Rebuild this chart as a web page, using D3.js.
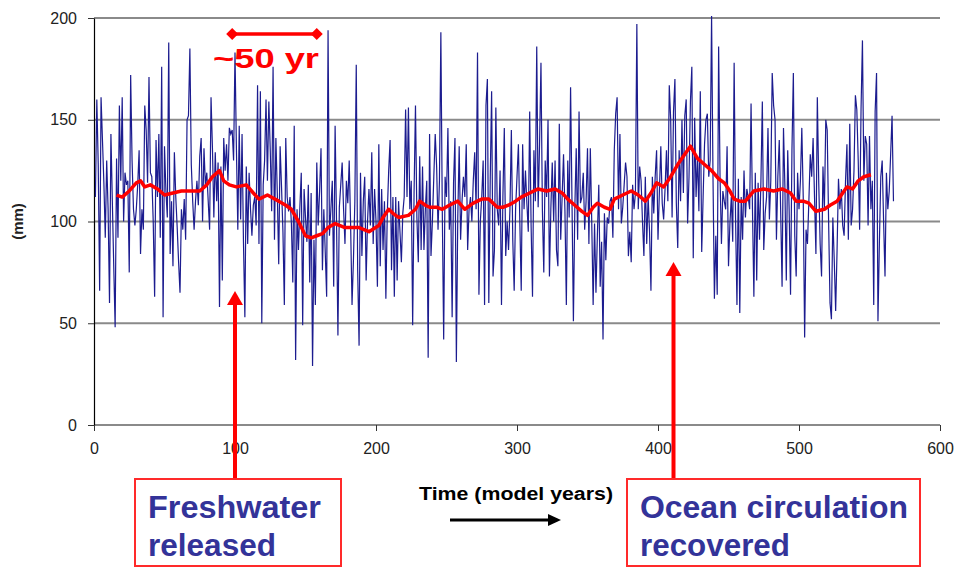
<!DOCTYPE html>
<html>
<head>
<meta charset="utf-8">
<title>Freshwater release</title>
<script src="https://d3js.org/d3.v7.min.js"></script>
<style>
  body { margin: 0; background: #fff; font-family: Arial, "Liberation Sans", sans-serif; }
</style>
</head>
<body>
<svg></svg>
<script>
// annual series, model years 1..567 (mm)
var annual = [
  112,160,128,66,161,140,119,92,130,106,
  60,143,110,78,48,131,92,157,120,161,
  100,124,118,120,75,172,130,106,98,106,
  118,135,84,106,96,157,145,119,171,124,
  122,100,63,140,112,143,92,176,53,137,
  115,102,188,84,110,78,134,112,97,80,
  65,106,96,111,91,150,152,185,128,110,
  96,110,120,108,132,141,100,136,118,124,
  110,96,161,136,102,134,110,129,58,127,
  71,141,125,138,120,146,143,145,130,183,
  136,96,147,101,143,90,53,127,89,124,
  106,93,108,112,98,167,89,164,50,118,
  130,160,120,159,135,105,176,91,141,114,
  79,137,117,95,59,141,112,105,112,99,
  70,147,32,106,86,107,124,49,116,102,
  90,118,70,114,29,91,59,129,98,115,
  136,76,106,85,63,194,93,106,120,68,
  147,100,44,107,118,129,106,89,120,109,
  130,98,59,81,110,177,76,39,124,83,
  110,122,71,100,116,98,134,89,116,100,
  68,138,78,116,86,110,62,104,125,140,
  76,112,63,112,71,110,95,80,104,112,
  155,112,156,106,120,49,114,157,102,80,
  132,86,127,86,106,120,33,143,83,100,
  122,143,127,96,120,193,106,42,122,112,
  146,96,110,53,119,141,31,102,137,91,
  110,122,112,138,86,106,112,100,120,134,
  106,183,64,100,112,130,59,157,170,60,
  120,164,73,86,156,106,98,125,59,112,
  146,83,100,86,106,145,91,66,106,122,
  138,100,66,138,106,125,109,95,154,98,
  63,135,110,186,107,138,178,106,75,130,
  112,150,73,106,129,100,130,86,78,148,
  91,112,133,105,59,130,102,166,110,51,
  106,136,91,154,109,112,124,96,110,136,
  89,136,100,59,99,65,93,118,68,90,
  42,104,81,102,99,110,112,92,135,153,
  161,106,143,99,107,118,129,122,83,95,
  80,118,106,114,197,106,127,120,100,83,
  122,89,112,95,66,122,104,122,135,91,
  115,137,109,101,116,135,110,167,150,102,
  154,170,109,87,135,110,150,114,152,160,
  99,122,159,176,82,151,112,132,105,164,
  85,112,138,150,153,122,130,201,122,62,
  93,64,186,122,89,115,110,106,137,78,
  99,112,90,178,102,59,121,55,112,91,
  125,102,116,112,106,158,106,63,124,71,
  119,91,120,159,86,104,112,146,101,120,
  173,157,150,91,122,140,105,68,146,117,
  71,135,106,64,135,173,93,73,124,106,
  120,146,112,43,96,89,110,133,122,141,
  112,84,161,119,89,73,127,106,150,145,
  100,60,52,102,81,56,86,121,106,116,
  98,93,120,138,91,148,98,106,125,162,
  155,130,96,155,189,120,142,138,98,142,
  106,120,59,154,173,51,89,122,130,100,
  73,124,106,115,133,152,110
];

// running mean
var meanYears = [16,20,25,30,33,36,40,45,50,56,62,68,75,80,84,89,92,96,101,108,
  113,117,123,131,136,140,145,150,154,158,162,166,171,178,183,188,195,202,205,209,
  212,216,223,228,231,235,238,243,247,252,258,263,269,275,280,286,290,294,299,303,
  309,315,321,327,332,336,341,346,350,354,357,362,366,369,375,381,386,391,395,399,
  404,409,414,419,423,428,433,438,443,447,451,454,458,462,468,475,482,488,494,498,
  503,507,512,518,522,527,531,534,538,542,546,551];
var meanValues = [113,112,115,119,120,117,118,116,113,114,115,115,115,118,122,125,120,118,117,118,
  114,111,113,110,108,106,100,93,92,93,94,97,99,97,97,97,95,98,102,106,
  104,102,103,106,110,108,107,107,106,108,110,106,109,111,111,107,107,108,110,112,
  114,116,115,116,114,111,108,105,103,107,109,107,106,111,113,115,113,110,114,119,
  117,122,128,133,137,131,128,125,121,119,115,111,110,110,115,116,115,116,114,110,
  110,109,105,106,108,110,114,117,116,120,122,123];

var yTicks = [0, 50, 100, 150, 200];
var xTicks = [0, 100, 200, 300, 400, 500, 600];

var W = 960, H = 570;
var svg = d3.select("svg").attr("width", W).attr("height", H);

var x = d3.scaleLinear().domain([0, 600]).range([94, 940]);
var y = d3.scaleLinear().domain([0, 200]).range([425, 18]);

// gridlines
svg.append("g").selectAll("line")
  .data(yTicks).enter().append("line")
    .attr("x1", x(0)).attr("x2", x(600))
    .attr("y1", function(d) { return y(d); })
    .attr("y2", function(d) { return y(d); })
    .attr("stroke", "#8a8a8a").attr("stroke-width", 2);

// axes
var yAxis = svg.append("g")
  .attr("transform", "translate(" + x(0) + ",0)")
  .call(d3.axisLeft(y).tickValues(yTicks).tickSize(6).tickSizeOuter(0).tickPadding(11));
var xAxis = svg.append("g")
  .attr("transform", "translate(0," + y(0) + ")")
  .call(d3.axisBottom(x).tickValues(xTicks).tickSize(6).tickSizeOuter(0).tickPadding(12));

yAxis.select(".domain").attr("stroke", "#000").attr("stroke-width", 1.2);
xAxis.select(".domain").remove();
svg.selectAll(".tick line").attr("stroke", "#333");
svg.selectAll(".tick text")
  .attr("font-family", "Arial, 'Liberation Sans', sans-serif")
  .attr("font-size", 16).attr("fill", "#222");

svg.append("text")
  .attr("transform", "translate(23," + y(100) + ") rotate(-90)")
  .attr("text-anchor", "middle")
  .attr("font-size", 15).attr("font-weight", "bold").attr("fill", "#222")
  .text("(mm)");

// annual line
var line = d3.line()
  .x(function(d, i) { return x(i + 1); })
  .y(function(d) { return y(d); });

svg.append("path")
  .datum(annual)
  .attr("d", line)
  .attr("fill", "none")
  .attr("stroke", "#1c1c8f")
  .attr("stroke-width", 1.2);

// running mean
var meanLine = d3.line()
  .x(function(d, i) { return x(meanYears[i]); })
  .y(function(d) { return y(d); });

svg.append("path")
  .datum(meanValues)
  .attr("d", meanLine)
  .attr("fill", "none")
  .attr("stroke", "#ff0000")
  .attr("stroke-width", 3.5)
  .attr("stroke-linejoin", "round");

// ~50 yr bracket
var bx1 = x(98), bx2 = x(158), by = 34;
svg.append("line")
  .attr("x1", bx1).attr("x2", bx2).attr("y1", by).attr("y2", by)
  .attr("stroke", "#ff0000").attr("stroke-width", 3.5);
[bx1, bx2].forEach(function(cx) {
  svg.append("path")
    .attr("d", "M" + (cx - 6) + "," + by + "L" + cx + "," + (by - 6) + "L" + (cx + 6) + "," + by + "L" + cx + "," + (by + 6) + "Z")
    .attr("fill", "#ff0000");
});
svg.append("text")
  .attr("x", 213).attr("y", 68)
  .attr("font-size", 28).attr("font-weight", "bold").attr("fill", "#ff0000")
  .attr("textLength", 106).attr("lengthAdjust", "spacingAndGlyphs")
  .text("~50 yr");

// red arrows up from boxes
function upArrow(ax, tip, base) {
  svg.append("line")
    .attr("x1", ax).attr("x2", ax).attr("y1", base).attr("y2", tip + 12)
    .attr("stroke", "#ff0000").attr("stroke-width", 4);
  svg.append("path")
    .attr("d", "M" + (ax - 8) + "," + (tip + 14) + "L" + ax + "," + tip + "L" + (ax + 8) + "," + (tip + 14) + "Z")
    .attr("fill", "#ff0000");
}
upArrow(x(100), 291, 479);
upArrow(x(411), 262, 479);

// boxes
function box(x0, x1, lines, widths) {
  svg.append("rect")
    .attr("x", x0).attr("y", 479).attr("width", x1 - x0).attr("height", 87)
    .attr("fill", "#fff").attr("stroke", "#ff2a2a").attr("stroke-width", 2);
  lines.forEach(function(t, i) {
    svg.append("text")
      .attr("x", x0 + 13).attr("y", 518 + i * 38)
      .attr("font-size", 31).attr("font-weight", "bold").attr("fill", "#333399")
      .attr("textLength", widths[i]).attr("lengthAdjust", "spacingAndGlyphs")
      .text(t);
  });
}
box(135, 341, ["Freshwater", "released"], [173, 128]);
box(627, 920, ["Ocean circulation", "recovered"], [268, 150]);

// time label + arrow
svg.append("text")
  .attr("x", 419).attr("y", 500)
  .attr("font-size", 18).attr("font-weight", "bold").attr("fill", "#000")
  .attr("textLength", 194).attr("lengthAdjust", "spacingAndGlyphs")
  .text("Time (model years)");
svg.append("line")
  .attr("x1", 450).attr("x2", 549).attr("y1", 520).attr("y2", 520)
  .attr("stroke", "#000").attr("stroke-width", 3);
svg.append("path")
  .attr("d", "M548,514L561,520L548,526Z")
  .attr("fill", "#000");
</script>
</body>
</html>
